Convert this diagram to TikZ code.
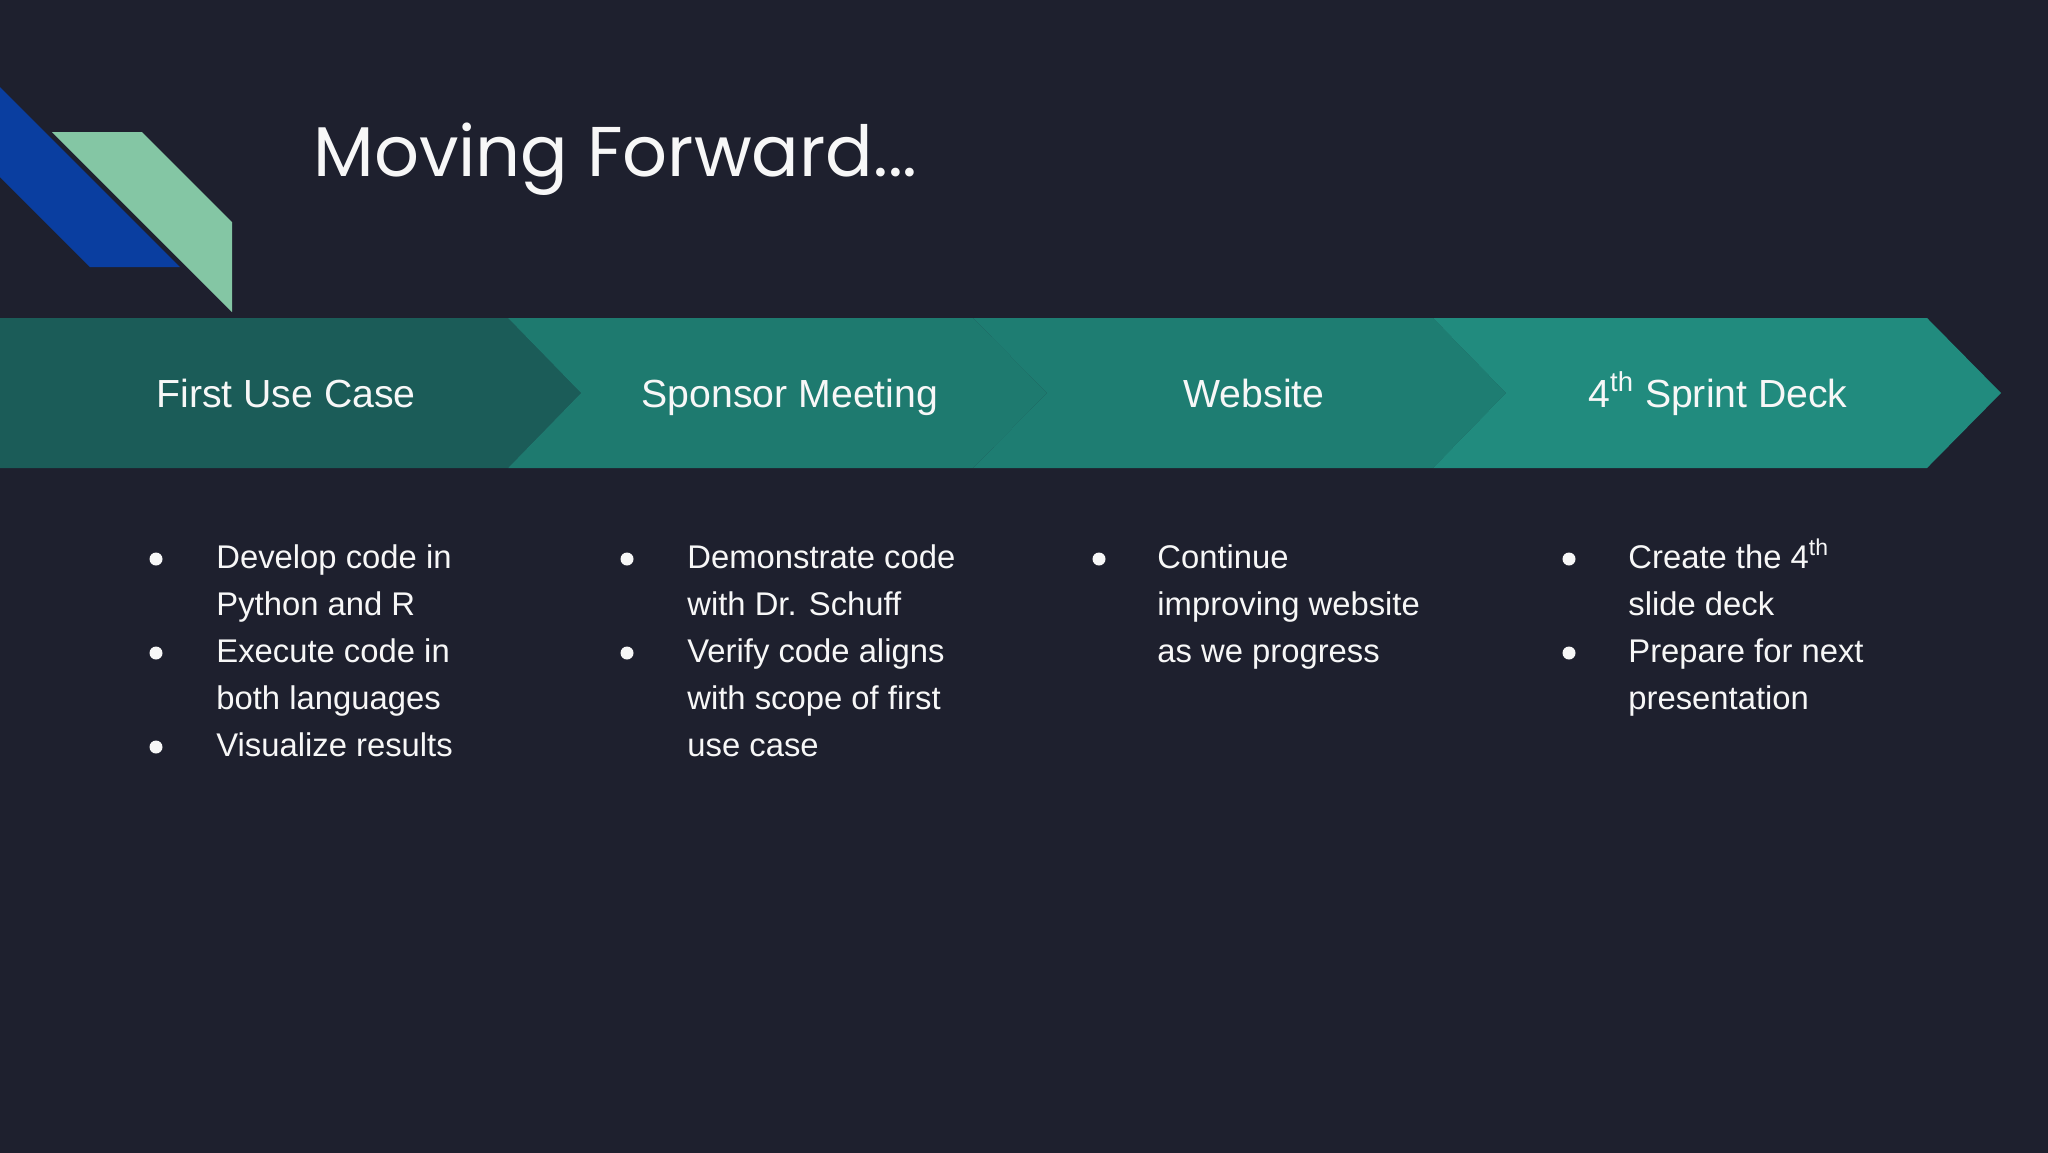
\documentclass[tikz,border=0pt]{standalone}
\usepackage{fontspec}
\setmainfont{Liberation Sans}
\newfontfamily\titlefont{Poppins}
\definecolor{bg}{HTML}{1E202E}
\definecolor{blueband}{HTML}{0A3EA0}
\definecolor{greenband}{HTML}{84C6A4}
\definecolor{chevA}{HTML}{1B5C58}
\definecolor{chevB}{HTML}{1E7A6F}
\definecolor{chevC}{HTML}{1E7D72}
\definecolor{chevD}{HTML}{218B7E}
\definecolor{txt}{HTML}{F7F7F7}
\tikzset{
  label/.style={inner sep=0pt, anchor=base, text=txt, font=\fontsize{19.6}{23}\selectfont},
  bodyline/.style={inner sep=0pt, anchor=base west, text=txt, font=\fontsize{16.4}{19}\selectfont},
  bulletdot/.style={fill=txt},
}
\begin{document}
\begin{tikzpicture}[x=0.5pt,y=-0.5pt]
\useasboundingbox (0,0) rectangle (2048,1152);
\fill[bg] (-2,-2) rectangle (2050,1154);
% decoration
\fill[blueband] (0,87) -- (180,267) -- (90,267) -- (0,177) -- cycle;
\fill[greenband] (52,132) -- (142,132) -- (232,222) -- (232,312) -- cycle;
% title
\node[inner sep=0pt, anchor=base west, text=txt, font=\titlefont\fontsize{35.2}{40}\selectfont] (title) at (313,176) {Moving Forward...};
% chevrons
\fill[chevA] (0,318) -- (508,318) -- (581,393) -- (508,468) -- (0,468) -- cycle;
\fill[chevB] (508,318) -- (973,318) -- (1047,393) -- (973,468) -- (508,468) -- (581,393) -- cycle;
\fill[chevC] (973,318) -- (1433,318) -- (1506,393) -- (1433,468) -- (973,468) -- (1047,393) -- cycle;
\fill[chevD] (1433,318) -- (1927,318) -- (2001,393) -- (1927,468) -- (1433,468) -- (1506,393) -- cycle;
\node[label] (l1) at (286,407) {First Use Case};
\node[label] (l2) at (790,407) {Sponsor Meeting};
\node[label] (l3) at (1254,407) {Website};
\node[label] (l4) at (1718,407) {4\textsuperscript{th} Sprint Deck};
% column 1
\fill[bulletdot] (156,559) circle (6.5);
\fill[bulletdot] (156,653) circle (6.5);
\fill[bulletdot] (156,747) circle (6.5);
\node[bodyline] (a1) at (216,568) {Develop code in};
\node[bodyline] (a2) at (216,615) {Python and R};
\node[bodyline] (a3) at (216,662) {Execute code in};
\node[bodyline] (a4) at (216,709) {both languages};
\node[bodyline] (a5) at (216,756) {Visualize results};
% column 2
\fill[bulletdot] (627,559) circle (6.5);
\fill[bulletdot] (627,653) circle (6.5);
\node[bodyline] (b1) at (687,568) {Demonstrate code};
\node[bodyline] (b2) at (687,615) {with Dr. Schuff};
\node[bodyline] (b3) at (687,662) {Verify code aligns};
\node[bodyline] (b4) at (687,709) {with scope of first};
\node[bodyline] (b5) at (687,756) {use case};
% column 3
\fill[bulletdot] (1099,559) circle (6.5);
\node[bodyline] (c1) at (1157,568) {Continue};
\node[bodyline] (c2) at (1157,615) {improving website};
\node[bodyline] (c3) at (1157,662) {as we progress};
% column 4
\fill[bulletdot] (1569,559) circle (6.5);
\fill[bulletdot] (1569,653) circle (6.5);
\node[bodyline] (d1) at (1628,568) {Create the 4\textsuperscript{th}};
\node[bodyline] (d2) at (1628,615) {slide deck};
\node[bodyline] (d3) at (1628,662) {Prepare for next};
\node[bodyline] (d4) at (1628,709) {presentation};
\end{tikzpicture}
\end{document}
